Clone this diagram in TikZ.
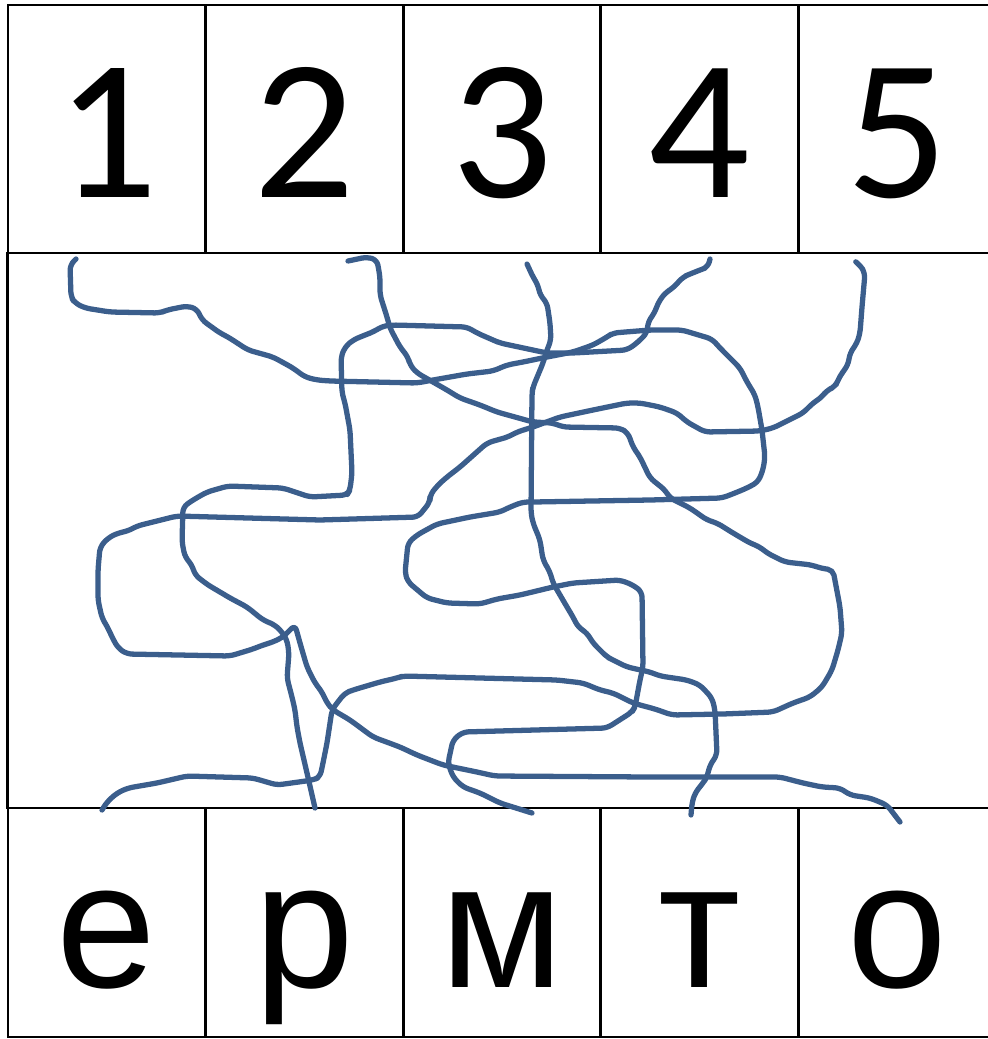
\documentclass[tikz,border=0pt]{standalone}
\usepackage{fontspec}
\usepackage{tikz}
\newfontfamily\digitfont{Carlito}
\newfontfamily\letterfont{Liberation Sans}
\definecolor{wireblue}{RGB}{59,94,140}
\tikzset{
  cell/.style={draw=black, line width=0.75pt, minimum width=1.976cm, inner sep=0pt},
  digitcell/.style={cell, minimum height=2.48cm, text height=1.36cm, text depth=0pt,
    font=\digitfont\fontsize{57}{60}\selectfont},
  lettercell/.style={cell, minimum height=2.29cm, text height=1.29cm, text depth=0pt,
    font=\letterfont\fontsize{51}{56}\selectfont},
  wire/.style={draw=wireblue, line width=1.5pt, line join=round, line cap=round, rounded corners=1.5pt}
}
\begin{document}
\begin{tikzpicture}[x=0.01cm, y=-0.01cm]
  \useasboundingbox (0,0) rectangle (987,1039);

  % Middle field
  \node[cell, minimum width=9.88cm, minimum height=5.55cm] (field) at (502,530.5) {};

  % Top row of digits and bottom row of letters
  \foreach \d [count=\i] in {1,2,3,4,5}
    \node[digitcell] (d\i) at ({8+(\i-0.5)*197.6},129) {\d};
  \foreach \c [count=\i] in {е,р,м,т,о}
    \node[lettercell] (l\i) at ({8+(\i-0.5)*197.6},922.5) {\c};

  % Loose ends of the lines
  \coordinate (top1) at (76,259);
  \coordinate (top2) at (348,261);
  \coordinate (top3) at (527,264);
  \coordinate (top4) at (710,259);
  \coordinate (top5) at (856,262);
  \coordinate (bot1) at (102,810);
  \coordinate (bot2) at (315,808);
  \coordinate (bot3) at (532,813);
  \coordinate (bot4) at (691,815);
  \coordinate (bot5) at (900,822);

  % Line from 1
  \draw[wire] (top1) -- plot coordinates {(70,265) (71,297) (75,303) (85,308) (110,312) (160,313)
    (167,310) (187,306) (197,309) (202,320) (220,333) (228,337) (248,350) (273,357) (293,368)
    (305,377) (317,380) (330,381) (417,383) (433,380) (467,374) (493,371) (507,365) (523,362)
    (547,357) (573,352) (593,345) (607,337) (613,333) (650,330) (682,330) (712,339) (720,348)
    (740,368) (747,382) (755,395) (758,407) (762,430) (765,457) (763,470) (758,482) (747,488)
    (735,493) (722,498) (650,500) (533,502) (523,502) (510,507) (500,512) (470,517) (437,524)
    (417,535) (408,543) (405,573) (408,582) (427,598) (447,603) (480,604) (497,599) (520,595)
    (553,587) (573,583) (620,580) (633,585) (642,592) (643,667) (640,680) (635,707) (632,712)
    (607,728) (463,732) (453,740) (448,763) (453,777) (463,787) (480,793) (500,803)} -- (bot3);

  % Line from 2
  \draw[wire] (top2) -- plot coordinates {(367,257) (377,260) (380,277) (380,295) (387,317)
    (390,328) (400,347) (408,357) (410,365) (417,373) (433,382) (447,390) (460,398) (480,405)
    (497,412) (533,422) (553,423) (563,427) (620,428) (628,433) (633,447) (640,457) (650,478)
    (665,490) (670,498) (690,508) (707,520) (717,523) (733,533) (750,543) (760,547) (767,553)
    (785,562) (812,565) (820,568) (833,570) (840,607) (842,633) (838,650) (832,670) (822,687)
    (810,697) (793,703) (773,712) (723,714) (672,715) (655,709) (640,705) (633,703) (613,693)
    (600,690) (583,683) (557,680) (403,676) (397,678) (380,682) (353,690) (345,693) (337,703)
    (332,710) (327,743) (323,763) (320,777) (313,780) (277,785) (253,778) (187,776) (157,783)
    (128,788) (117,793) (107,802)} -- (bot1);

  % Line from 3
  \draw[wire] (top3) -- plot coordinates {(533,277) (538,285) (540,295) (547,303) (550,323)
    (551,340) (547,350) (543,363) (533,387) (532,393) (531,513) (533,523) (540,540) (543,560)
    (550,572) (553,583) (567,607) (573,617) (578,627) (587,633) (593,643) (607,657) (613,660)
    (627,667) (650,672) (660,676) (687,680) (700,685) (712,698) (715,710) (717,755) (710,765)
    (707,777) (703,783) (695,793) (692,803)} -- (bot4);

  % Line from 4
  \draw[wire] (top4) -- plot coordinates {(708,267) (700,270) (690,274) (683,277) (673,288)
    (665,293) (658,303) (655,312) (648,322) (647,333) (637,343) (627,350) (573,353) (547,353)
    (500,343) (493,340) (477,333) (467,327) (393,325) (383,326) (373,332) (365,335) (353,340)
    (345,347) (341,357) (342,393) (345,403) (350,430) (352,473) (350,490) (347,495) (310,497)
    (283,488) (228,486) (207,492) (193,500) (183,507) (182,542) (185,557) (192,565) (195,575)
    (208,585) (220,592) (230,598) (247,607) (263,620) (275,625) (282,632) (287,640) (289,653)
    (287,678) (292,697) (295,710) (297,727) (300,743) (307,773)} -- (bot2);

  % Line from 5
  \draw[wire] (top5) -- plot coordinates {(860,265) (865,273) (862,307) (860,333) (857,343)
    (850,353) (848,365) (842,373) (838,380) (835,387) (827,390) (822,397) (813,403) (803,413)
    (793,418) (773,428) (760,431) (705,432) (687,422) (677,413) (660,407) (640,403) (627,403)
    (593,410) (560,417) (533,427) (517,432) (508,437) (497,440) (487,443) (460,467) (447,477)
    (438,485) (430,495) (430,502) (418,517) (320,520) (177,516) (153,522) (137,526) (128,531)
    (118,533) (108,538) (100,547) (98,570) (98,600) (102,618) (108,628) (112,637) (118,648)
    (127,654) (230,656) (253,649) (263,645) (273,642) (283,637) (295,625) (300,643) (307,667)
    (315,683) (322,692) (327,703) (333,710) (350,720) (373,737) (400,747) (417,755) (443,765)
    (477,772) (495,776) (650,777) (780,777) (803,783) (822,787) (840,788) (850,795) (870,798)
    (887,805)} -- (bot5);
\end{tikzpicture}
\end{document}
